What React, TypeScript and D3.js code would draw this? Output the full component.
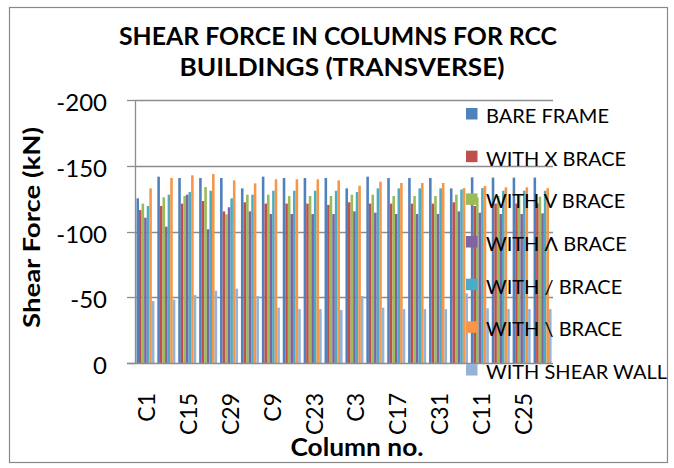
import React from 'react';
import * as d3 from 'd3';

const categories = ['C1','C8','C15','C22','C29','C2','C9','C16','C23','C30','C3','C10','C17','C24','C31','C4','C11','C18','C25','C32'];
const seriesNames = ['BARE FRAME','WITH X BRACE','WITH V BRACE','WITH Λ BRACE','WITH / BRACE','WITH \\ BRACE','WITH SHEAR WALL'];
const seriesColors = ['#4F81BD','#C0504D','#9BBB59','#8064A2','#4BACC6','#F79646','#95B3D7'];

const bareFrame   = [-125.2,-141.7,-140.7,-140.7,-140.7,-132.8,-141.7,-140.7,-140.7,-140.7,-132.8,-141.7,-140.7,-140.7,-140.7,-132.8,-141.2,-141,-141,-141];
const withXBrace  = [-116.3,-119.4,-121.2,-123.2,-115.3,-122.2,-121.2,-121.2,-121.2,-120.2,-122.2,-121.2,-121.2,-121.2,-121.2,-122.2,-119.4,-121.2,-121.2,-121.4];
const withVBrace  = [-121.2,-126,-127,-133.8,-113.1,-128,-128,-127,-127,-127,-128,-128,-127,-127,-127,-128,-126,-127,-127,-126.5];
const withLBrace  = [-110.5,-103.7,-128,-101.7,-118.4,-115.3,-113.3,-113.3,-113.3,-113.3,-115.3,-114.3,-113.3,-113.3,-113.3,-115.3,-114.3,-113.3,-113.3,-113.8];
const withFBrace  = [-119.4,-128,-130,-131,-125.2,-128,-131,-131,-131,-131,-130,-132.8,-132.8,-132.8,-132.8,-132,-133,-131,-131,-131];
const withBBrace  = [-132.8,-140.7,-142.7,-143.7,-138.9,-136.6,-139.7,-139.7,-139.7,-138.9,-134.8,-137.9,-136.9,-136.9,-136.9,-133,-134.6,-133.6,-133.6,-133];
const withShearWall = [-47.1,-48.2,-51.7,-55,-56.5,-51,-42.1,-41,-41,-40.3,-51,-42.1,-41,-41,-41,-53,-41.6,-41,-41,-41];

const seriesValues = [bareFrame, withXBrace, withVBrace, withLBrace, withFBrace, withBBrace, withShearWall];
const yTicks = [0, -50, -100, -150, -200];

const W = 674, H = 468;
const plot = { left: 135, right: 553, top: 100, bottom: 363 };
const FONT = 'Lato, "Open Sans", sans-serif';

export default function App() {
  const x0 = d3.scaleBand<string>().domain(categories).range([plot.left, plot.right]).padding(0);
  const x1 = d3.scaleBand<string>().domain(seriesNames).range([0, x0.bandwidth()]).paddingInner(0).paddingOuter(0.56);
  const y = d3.scaleLinear().domain([0, -200]).range([plot.bottom, plot.top]);

  const legendTop = 114, legendStep = 42.67;

  return (
    <svg width={W} height={H} style={{ position: 'absolute', left: 0, top: 0 }} xmlns="http://www.w3.org/2000/svg">
      <rect x={0} y={0} width={W} height={H} fill="#fff" />
      <rect x={9.5} y={7.5} width={658} height={455} fill="#fff" stroke="#898989" strokeWidth={1.2} />

      {/* gridlines */}
      {yTicks.filter(t => t !== 0).map(t => (
        <line key={t} x1={plot.left} x2={plot.right} y1={Math.round(y(t)) + 0.5} y2={Math.round(y(t)) + 0.5} stroke="#8c8c8c" strokeWidth={1.3} />
      ))}

      {/* bars */}
      {categories.map((c, i) => (
        <g key={c} transform={`translate(${x0(c)},0)`}>
          {seriesNames.map((s, k) => {
            const v = seriesValues[k][i];
            return (
              <rect key={s} x={x1(s)} y={y(v)} width={x1.bandwidth()} height={y(0) - y(v)} fill={seriesColors[k]} />
            );
          })}
        </g>
      ))}

      {/* axes */}
      <line x1={plot.left + 0.5} x2={plot.left + 0.5} y1={plot.top} y2={plot.bottom} stroke="#8c8c8c" strokeWidth={1.3} />
      <line x1={plot.left - 8} x2={plot.right} y1={plot.bottom + 0.5} y2={plot.bottom + 0.5} stroke="#8c8c8c" strokeWidth={1.3} />
      {yTicks.map(t => (
        <g key={t}>
          <line x1={plot.left - 8} x2={plot.left} y1={Math.round(y(t)) + 0.5} y2={Math.round(y(t)) + 0.5} stroke="#8c8c8c" strokeWidth={1.3} />
          <text x={107} y={y(t) + 1.5} textAnchor="end" dominantBaseline="central" fontFamily={FONT} fontSize={24} fill="#000">{t}</text>
        </g>
      ))}

      {categories.map((c, i) => i % 2 === 0 ? (
        <text key={c} transform={`translate(${(x0(c) as number) + x0.bandwidth() / 2 + 1},393) rotate(-90)`} textAnchor="end" dominantBaseline="central" fontFamily={FONT} fontSize={23} fill="#000">{c}</text>
      ) : null)}

      {/* titles */}
      <text x={338} y={45} textAnchor="middle" fontFamily={FONT} fontWeight="bold" fontSize={24} fill="#000" textLength={438} lengthAdjust="spacingAndGlyphs">SHEAR FORCE IN COLUMNS FOR RCC</text>
      <text x={342} y={76} textAnchor="middle" fontFamily={FONT} fontWeight="bold" fontSize={24} fill="#000" textLength={325} lengthAdjust="spacingAndGlyphs">BUILDINGS (TRANSVERSE)</text>
      <text x={357} y={456} textAnchor="middle" fontFamily={FONT} fontWeight="bold" fontSize={24} fill="#000" textLength={133} lengthAdjust="spacingAndGlyphs">Column no.</text>
      <text transform="translate(40,227.5) rotate(-90)" textAnchor="middle" fontFamily={FONT} fontWeight="bold" fontSize={23} fill="#000" textLength={201} lengthAdjust="spacingAndGlyphs">Shear Force (kN)</text>

      {/* legend */}
      {seriesNames.map((s, k) => (
        <g key={s} transform={`translate(466,${legendTop + k * legendStep})`}>
          <rect x={0} y={-6} width={11.5} height={11.5} fill={seriesColors[k]} />
          <text x={20} y={1} dominantBaseline="central" fontFamily={FONT} fontSize={20} fill="#000">{s}</text>
        </g>
      ))}
    </svg>
  );
}
